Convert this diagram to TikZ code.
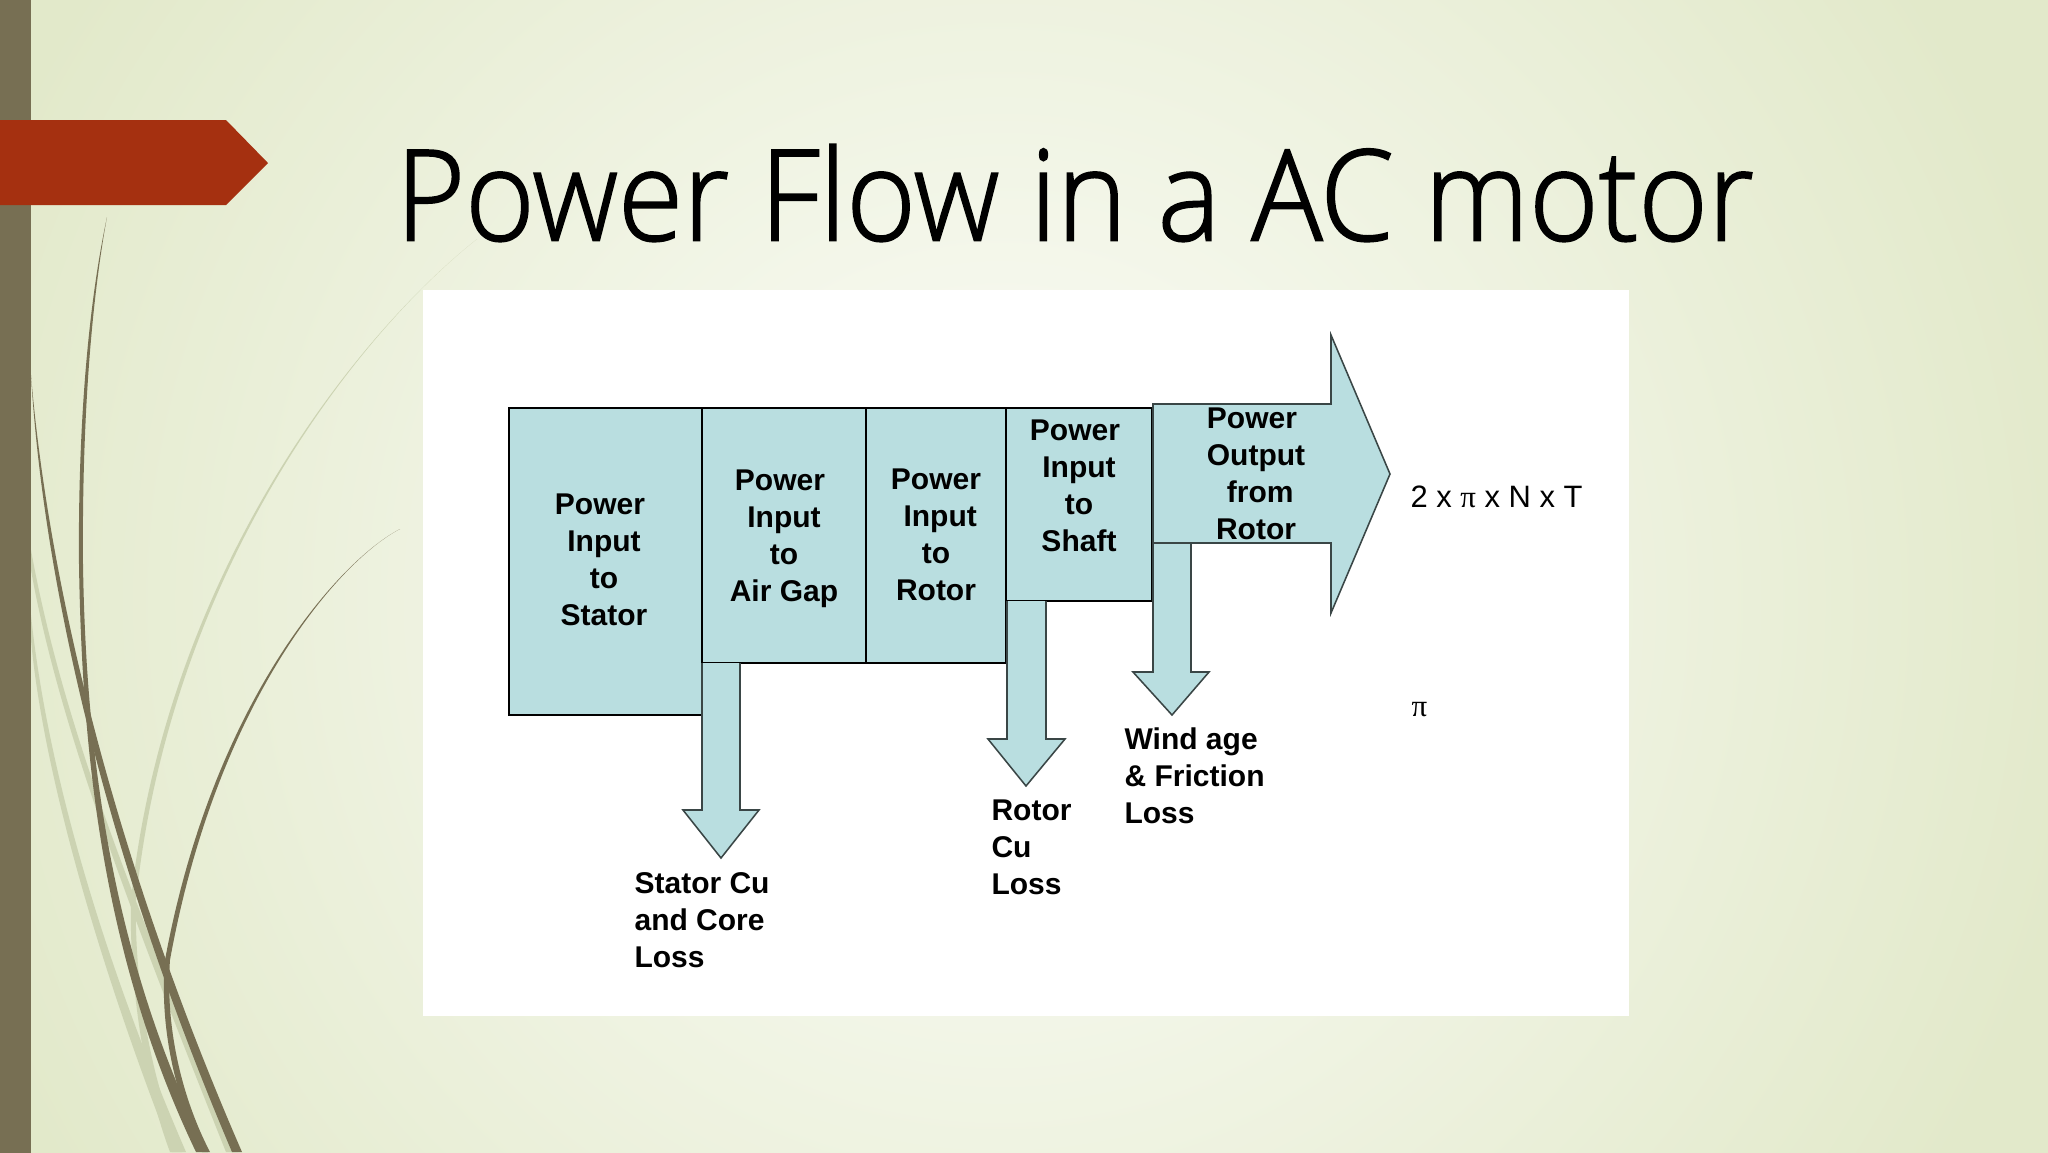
\documentclass[tikz,border=0pt]{standalone}
\usepackage{fontspec}
\setsansfont{Liberation Sans}
\newfontfamily\titlefont[FakeStretch=0.937,FakeBold=1.4]{Open Sans Light}
\newfontfamily\greekfont{Liberation Serif}
\definecolor{slidebase}{HTML}{E2E9CA}
\definecolor{slidelight}{HTML}{FCFDF9}
\definecolor{stripcol}{HTML}{776F53}
\definecolor{redcol}{HTML}{A53010}
\definecolor{grasslight}{HTML}{CCD3B2}
\definecolor{boxcol}{HTML}{B9DEE0}
\definecolor{arrowline}{HTML}{3A4646}
\tikzset{
    flowbox/.style 2 args={draw=black,line width=0.9pt,fill=boxcol,anchor=north west,inner sep=0pt,outer sep=0pt,minimum width=#1*0.0125cm,minimum height=#2*0.0125cm},
    flowarrow/.style={draw=arrowline,line width=0.55pt,fill=boxcol,line join=miter},
    boxlabel/.style={inner sep=0pt,align=center,font=\sffamily\bfseries\fontsize{10.67}{13.16}\selectfont},
    losslabel/.style={inner sep=0pt,align=left,anchor=west,font=\sffamily\bfseries\fontsize{10.67}{13.16}\selectfont},
    plainlabel/.style={inner sep=0pt,anchor=west,font=\sffamily\fontsize{11}{13.16}\selectfont}
}
\begin{document}
\begin{tikzpicture}[x=0.0125cm,y=-0.0125cm]
    \useasboundingbox (0,0) rectangle (2048,1152);
    \begin{scope}
        \clip (-4,-4) rectangle (2052,1158);
        \fill[slidebase] (-4,-4) rectangle (2052,1158);
        \shade[inner color=slidelight,outer color=slidebase] (1000,600) circle (1100);
    \end{scope}
    \begin{scope}[grasslight]
        \fill (477,239) .. controls (350,340) and (165,580) .. (131,900) .. controls (129,980) and (143,1080) .. (170,1152) -- (182,1152) .. controls (150,1080) and (134,980) .. (136,900) .. controls (169,580) and (350,340) .. (477,239);
        \fill (31,570) .. controls (56,710) and (117,880) .. (226,1152) -- (238,1152) .. controls (123,880) and (60,710) .. (31,550);
        \fill (31,640) .. controls (43,770) and (97,960) .. (172,1152) -- (186,1152) .. controls (103,960) and (47,770) .. (31,615);
    \end{scope}
    \begin{scope}[stripcol]
        \fill (31,375) .. controls (42,560) and (95,830) .. (232,1152) -- (242,1152) .. controls (102,830) and (46,555) .. (31,375);
        \fill (107,217) .. controls (85,320) and (78,450) .. (79,564) .. controls (82,760) and (104,960) .. (196,1152) -- (208,1152) .. controls (113,960) and (86,760) .. (83,564) .. controls (82,450) and (88,320) .. (107,217);
        \fill (400,529) .. controls (340,560) and (213,700) .. (165,960) .. controls (159,1030) and (177,1100) .. (202,1152) -- (210,1152) .. controls (183,1100) and (165,1030) .. (170,960) .. controls (217,700) and (340,560) .. (400,529);
    \end{scope}
    \fill[stripcol] (-4,-4) rectangle (31,1158);
    \fill[redcol] (-4,120) -- (226,120) -- (268,163) -- (226,205) -- (-4,205) -- cycle;
    \fill[white] (423,290) rectangle (1629,1016);
    \node[inner sep=0pt,anchor=center,font=\titlefont\fontsize{45}{50}\selectfont] (T1) at (1075,193) {Power Flow in a AC motor};
    \node[flowbox={193}{307}] (N1) at (509,408) {};
    \node[flowbox={164}{255}] (N2) at (N1.north east) {};
    \node[flowbox={140}{255}] (N3) at (N2.north east) {};
    \node[flowbox={146}{193}] (N4) at (N3.north east) {};
    \coordinate (C1) at (1153,543);
    \draw[flowarrow] (N2.south west) -- ++(0,147) -- ++(-19,0) -- ++(38,48) coordinate (A1) -- ++(38,-48) -- ++(-19,0) -- ++(0,-147);
    \draw[flowarrow] (N4.south west) ++(1,0) -- ++(0,138) -- ++(-19,0) -- ++(38,47) coordinate (A2) -- ++(39,-47) -- ++(-19,0) -- ++(0,-138);
    \draw[flowarrow] (C1) -- ++(0,129) -- ++(-20,0) -- ++(39,43) coordinate (A3) -- ++(37,-43) -- ++(-18,0) -- ++(0,-129);
    \draw[flowarrow] (N4.north east) ++(1,-4) -- ++(178,0) -- ++(0,-69) -- ++(59,139) coordinate (A4) -- ++(-59,139) -- ++(0,-70) -- (C1) -- cycle;
    \node[boxlabel] (L1) at (604,560) {Power\kern2.85pt\\Input\\to\\Stator};
    \node[boxlabel] (L2) at (784,539) {Power\kern2.85pt\\Input\\to\\Air Gap};
    \node[boxlabel] (L3) at (936,535) {Power\\\kern3pt Input\\to\\Rotor};
    \node[boxlabel] (L4) at (1079,486) {Power\kern2.85pt\\Input\\to\\Shaft};
    \node[boxlabel] (L5) at (1256,474) {Power\kern2.85pt\\Output\\\kern3pt from\\Rotor};
    \node[losslabel] (L6) at (634,920) {Stator Cu\\and Core\\Loss};
    \node[losslabel] (L7) at (991,847) {Rotor\\Cu\\Loss};
    \node[losslabel] (L8) at (1124,776) {Wind age\\\& Friction\\Loss};
    \node[plainlabel] (L9) at (1410,497) {2 x {\greekfont π} x N x T};
    \node[plainlabel] (L10) at (1411,710) {{\greekfont π}};
\end{tikzpicture}
\end{document}
